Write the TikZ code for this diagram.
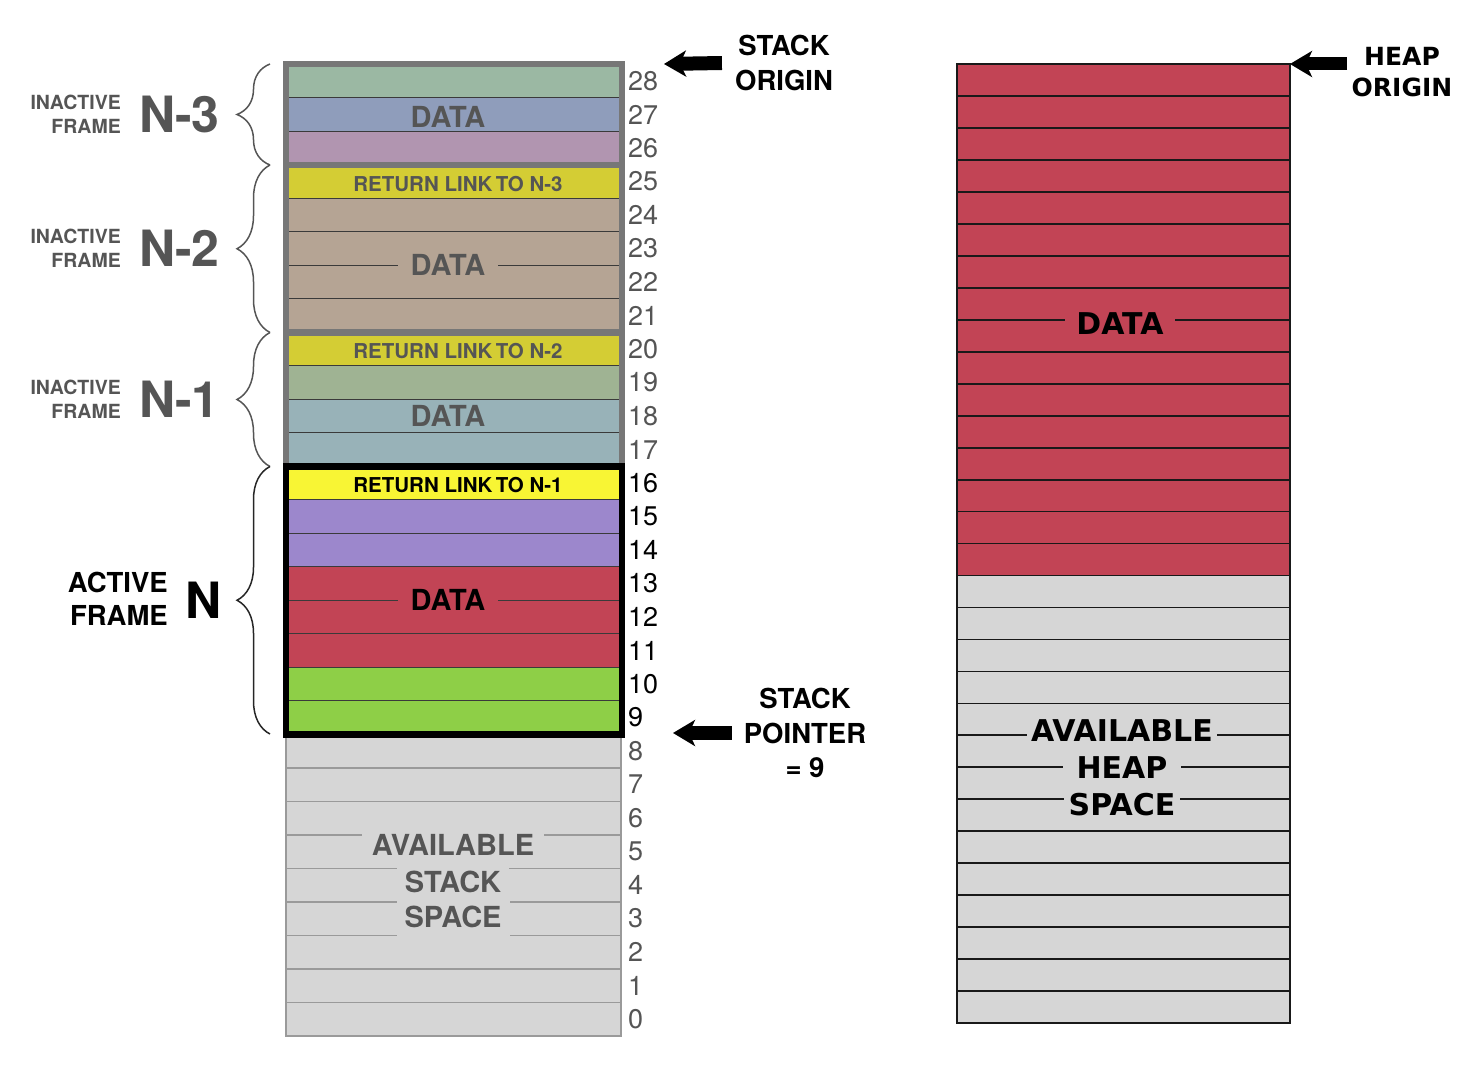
\documentclass[tikz,border=0pt]{standalone}
\usepackage{fontspec}
\setmainfont{TeX Gyre Heros}
\newfontfamily\heapfont{DejaVu Sans}
\usetikzlibrary{arrows.meta,decorations.pathreplacing}
\newlength{\du}
\setlength{\du}{1pt}
\definecolor{inkgray}{HTML}{555555}
\definecolor{framegray}{HTML}{777777}
\definecolor{freegray}{HTML}{D6D6D6}
\definecolor{freeline}{HTML}{9A9A9A}
\definecolor{sepline}{HTML}{3A3A3A}
\definecolor{sage}{HTML}{9BB8A3}
\definecolor{slate}{HTML}{8F9DBB}
\definecolor{mauve}{HTML}{B195B0}
\definecolor{olive}{HTML}{D4CD34}
\definecolor{tan}{HTML}{B5A494}
\definecolor{moss}{HTML}{9FB393}
\definecolor{teal}{HTML}{98B2B8}
\definecolor{lemon}{HTML}{F8F534}
\definecolor{lavender}{HTML}{9C87CC}
\definecolor{brick}{HTML}{C24455}
\definecolor{lime}{HTML}{8ECF47}
% one stack row k, and the separator on top of row k
\newcommand{\stackcell}[2]{\fill[#2] (286\du,{(1002.25-33.5*#1)*\du}) rectangle (622\du,{(1035.75-33.5*#1)*\du});}
\newcommand{\cellsep}[1]{\draw[cellline] (289\du,{(1002.25-33.5*#1)*\du}) -- (619\du,{(1002.25-33.5*#1)*\du});}
\tikzset{
  cellline/.style={draw=sepline, line width=1.4\du},
  oldframe/.style={draw=framegray, line width=6.5\du},
  curframe/.style={draw=black, line width=6.5\du},
  freerule/.style={draw=freeline, line width=1.5\du},
  heaprule/.style={draw=black!90, line width=1.8\du},
  celltext/.style={inner xsep=13\du, inner ysep=2\du, font={\fontsize{29}{30}\selectfont\bfseries}},
  linktext/.style={inner sep=0pt, font={\fontsize{20.5}{22}\selectfont\bfseries}},
  addr/.style={anchor=west, inner sep=0pt, font={\fontsize{27}{28}\selectfont}},
  framename/.style={anchor=east, align=right, inner sep=0pt, text=inkgray, font={\fontsize{19.5}{24}\selectfont\bfseries}},
  bigname/.style={anchor=west, inner sep=0pt, font={\fontsize{50}{50}\selectfont\bfseries}},
  framebrace/.style={decorate, decoration={brace, amplitude=33pt}, line width=1.5\du},
  callout/.style={align=center, inner sep=0pt, font={\fontsize{27.5}{34.5}\selectfont\bfseries}},
  bigarrow/.style={line width=14\du, -{Stealth[length=22pt, width=26pt, inset=6pt]}},
  heaptext/.style={inner ysep=4\du, font={\heapfont\fontsize{30}{36}\selectfont\bfseries}},
}
\begin{document}
\begin{tikzpicture}
\pgftransformxscale{1.000000}
\pgftransformyscale{-1.000000}
\useasboundingbox (0\du,0\du) rectangle (1457\du,1065\du);
% available stack space
\fill[freegray] (286\du,734.25\du) rectangle (621\du,1035.75\du);
\foreach \k in {1,...,8} {
  \pgfmathsetmacro{\yy}{1035.75-33.5*\k}
  \draw[freerule] (286\du,\yy\du) -- (621\du,\yy\du);
}
\draw[freerule] (286\du,734.25\du) rectangle (621\du,1035.75\du);
\node[celltext, text=inkgray, fill=freegray, inner xsep=10\du, inner ysep=8\du] (avail1) at (453\du,845\du) {AVAILABLE};
\node[celltext, text=inkgray, fill=freegray, inner xsep=8\du, inner ysep=8\du] (avail2) at (453\du,881.5\du) {STACK};
\node[celltext, text=inkgray, fill=freegray, inner xsep=8\du, inner ysep=10\du] (avail3) at (453\du,916.5\du) {SPACE};
% frame N-3
\stackcell{28}{sage}
\stackcell{27}{slate}
\stackcell{26}{mauve}
\cellsep{27}
\cellsep{26}
\draw[oldframe] (286\du,64.25\du) rectangle (622\du,164.75\du);
\node[celltext, text=inkgray] (data3) at (448\du,117\du) {DATA};
% frame N-2
\stackcell{25}{olive}
\foreach \k in {21,...,24} {\stackcell{\k}{tan}}
\foreach \k in {21,...,24} {\cellsep{\k}}
\draw[oldframe] (286\du,164.75\du) rectangle (622\du,332.25\du);
\node[linktext, text=inkgray] (link3) at (458\du,184\du) {RETURN LINK\,TO N-3};
\node[celltext, text=inkgray, fill=tan] (data2) at (448\du,265.25\du) {DATA};
% frame N-1
\stackcell{20}{olive}
\stackcell{19}{moss}
\stackcell{18}{teal}
\stackcell{17}{teal}
\foreach \k in {17,...,19} {\cellsep{\k}}
\draw[oldframe] (286\du,332.25\du) rectangle (622\du,466.25\du);
\node[linktext, text=inkgray] (link2) at (458\du,351\du) {RETURN LINK\,TO N-2};
\node[celltext, text=inkgray] (data1) at (448\du,416\du) {DATA};
% active frame N
\stackcell{16}{lemon}
\stackcell{15}{lavender}
\stackcell{14}{lavender}
\foreach \k in {11,...,13} {\stackcell{\k}{brick}}
\stackcell{10}{lime}
\stackcell{9}{lime}
\foreach \k in {9,...,15} {\cellsep{\k}}
\draw[curframe] (286\du,466.25\du) rectangle (622\du,734.25\du);
\node[linktext, text=black] (link1) at (458\du,485.5\du) {RETURN LINK\,TO N-1};
\node[celltext, text=black, fill=brick] (data0) at (448\du,600.25\du) {DATA};
% addresses
\foreach \k in {0,...,8,17,18,...,28} {
  \node[addr, text=inkgray] (a\k) at (628\du,{(1019-33.5*\k)*\du}) {\k};
}
\foreach \k in {9,...,16} {
  \node[addr, text=black] (a\k) at (628\du,{(1019-33.5*\k)*\du}) {\k};
}
% frame labels and braces
\node[framename] (lab3) at (121\du,114.5\du) {INACTIVE\\FRAME};
\node[bigname, text=inkgray] (nm3) at (139\du,114.5\du) {N-3};
\node[framename] (lab2) at (121\du,248.5\du) {INACTIVE\\FRAME};
\node[bigname, text=inkgray] (nm2) at (139\du,248.5\du) {N-2};
\node[framename] (lab1) at (121\du,399\du) {INACTIVE\\FRAME};
\node[bigname, text=inkgray] (nm1) at (139\du,399\du) {N-1};
\node[framename, text=black, font={\fontsize{27.5}{33}\selectfont\bfseries}] (lab0) at (168\du,599\du) {ACTIVE\\FRAME};
\node[bigname, text=black] (nm0) at (185\du,600\du) {N};
\draw[framebrace, draw=inkgray] (270\du,165\du) -- (270\du,64\du);
\draw[framebrace, draw=inkgray] (270\du,332.5\du) -- (270\du,165\du);
\draw[framebrace, draw=inkgray] (270\du,466.5\du) -- (270\du,332.5\du);
\draw[framebrace, draw=black!85] (270\du,734\du) -- (270\du,466.5\du);
% stack origin and pointer
\coordinate (stacktop) at (664\du,64\du);
\coordinate (stackptr) at (673\du,733\du);
\node[callout] (sorigin) at (784\du,63\du) {STACK\\ORIGIN};
\node[callout] (spointer) at (805\du,733\du) {STACK\\POINTER\\= 9};
\draw[bigarrow] ([xshift=-13pt]sorigin.west) -- (stacktop);
\draw[bigarrow] ([xshift=-12pt]spointer.west) -- (stackptr);
% heap
\fill[brick] (957\du,64\du) rectangle (1290\du,575.5\du);
\fill[freegray] (957\du,575.5\du) rectangle (1290\du,1023\du);
\foreach \k in {1,...,29} {
  \pgfmathsetmacro{\yy}{64+31.97*\k}
  \draw[heaprule] (957\du,\yy\du) -- (1290\du,\yy\du);
}
\draw[heaprule, line width=2.5\du] (957\du,64\du) rectangle (1290\du,1023\du);
\node[heaptext, fill=brick, inner xsep=11\du] (hdata) at (1120\du,324\du) {DATA};
\node[heaptext, fill=freegray, inner xsep=4\du] (hfree1) at (1122\du,731\du) {AVAILABLE};
\node[heaptext, fill=freegray, inner xsep=14\du] (hfree2) at (1122\du,768\du) {HEAP};
\node[heaptext, fill=freegray, inner xsep=5\du] (hfree3) at (1122\du,805\du) {SPACE};
\coordinate (heaptop) at (1290\du,64\du);
\coordinate (heaptail) at (1347\du,64\du);
\node[heaptext, align=center, inner sep=0pt, font={\heapfont\fontsize{25}{31}\selectfont\bfseries}] (horigin) at (1402\du,72\du) {HEAP\\ORIGIN};
\draw[bigarrow, line width=13\du] (heaptail) -- (heaptop);
\end{tikzpicture}
\end{document}
